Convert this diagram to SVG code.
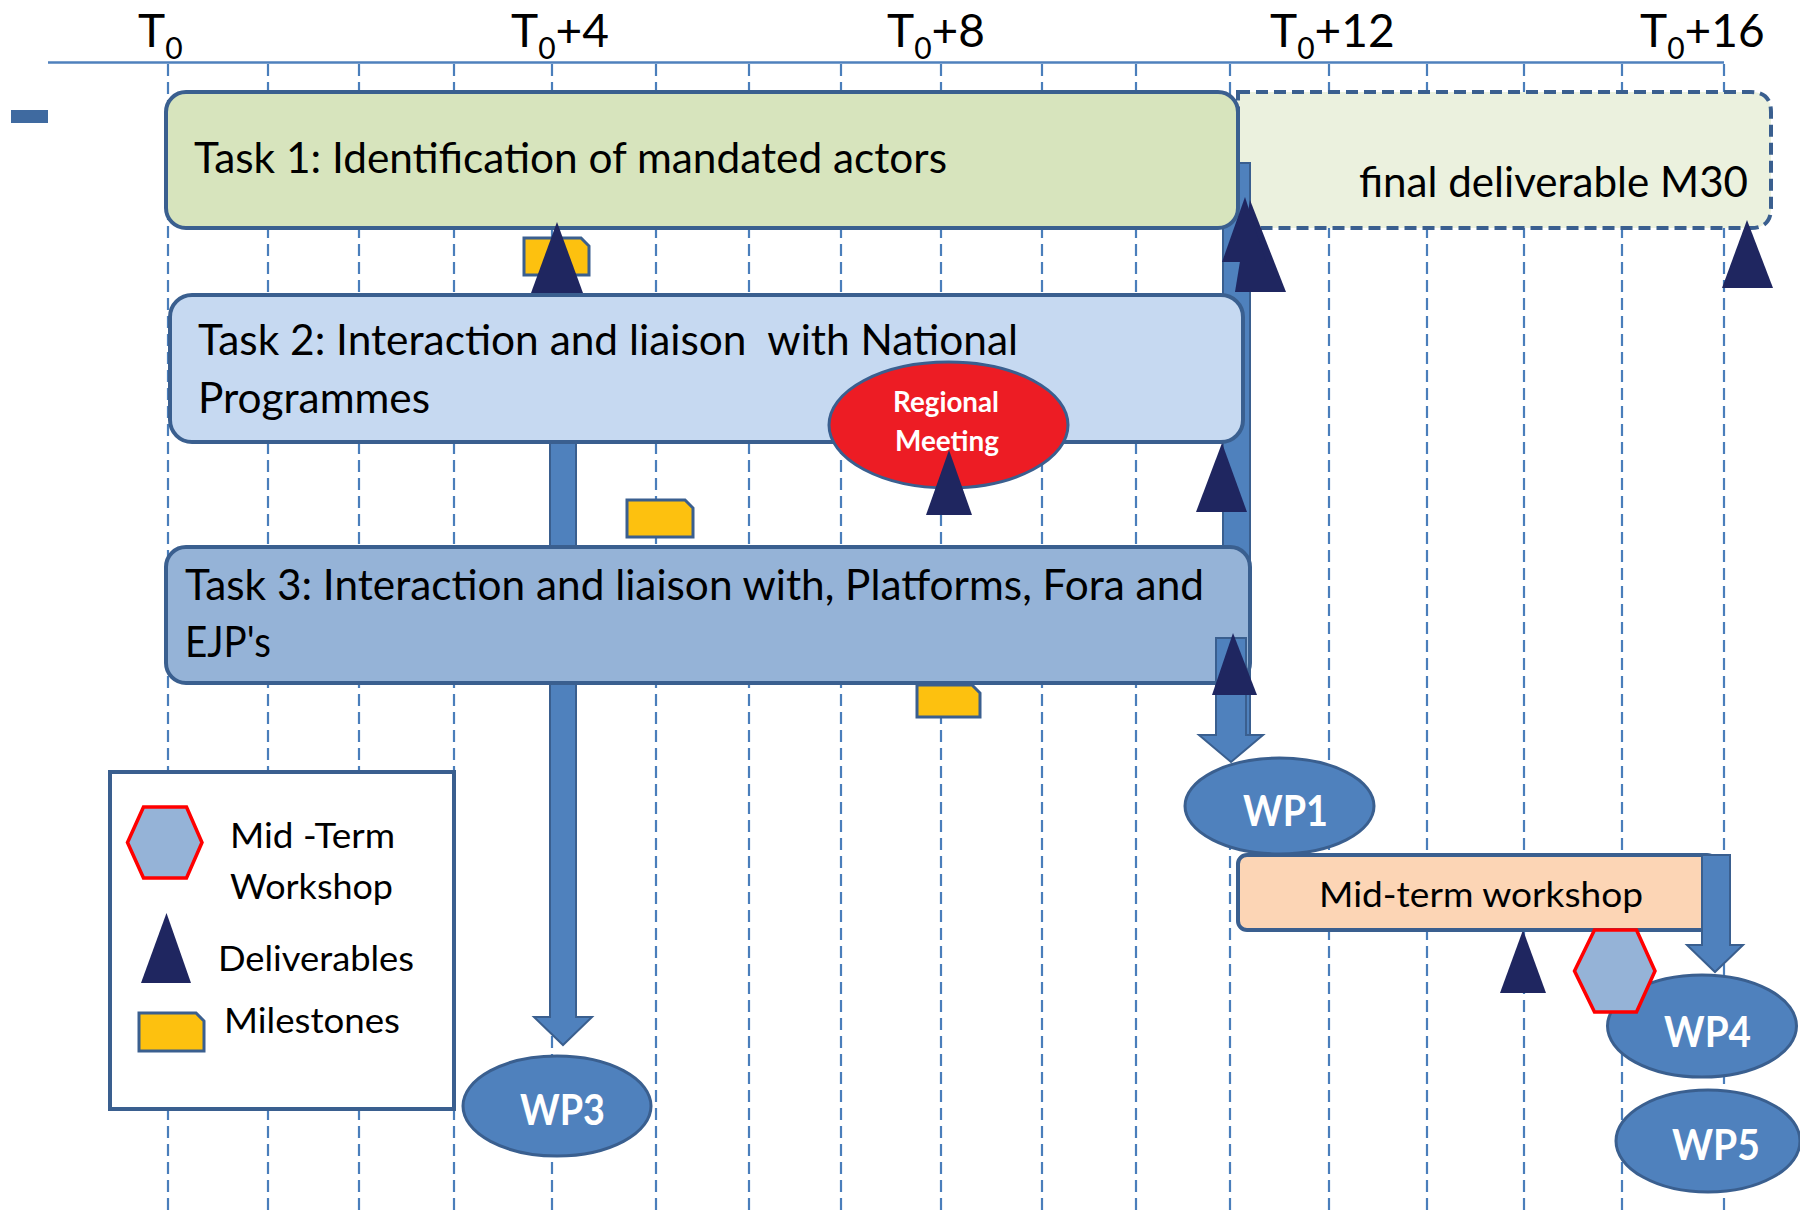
<svg xmlns="http://www.w3.org/2000/svg" width="1800" height="1211" viewBox="0 0 1800 1211">
<style>
text{font-family:Lato,"Open Sans","Liberation Sans",sans-serif;}
.ax{font-size:46px;fill:#000;}
.sub{font-size:30px;}
.grid{stroke:#4A7EBB;stroke-width:2.2;stroke-dasharray:12 6;fill:none;}
.box{stroke:#3A5F8F;stroke-width:4;}
.tk{font-size:43px;fill:#000;}
.lg{font-size:34px;fill:#000;}
.wp{fill:#4F81BD;stroke:#3A5F8F;stroke-width:3;}
.wpt{font-size:42px;font-weight:bold;fill:#fff;text-anchor:start;}
.del{fill:#1F2660;}
.ms{fill:#FDC10F;stroke:#3A5F8F;stroke-width:3;}
.hex{fill:#95B3D7;stroke:#FF0000;stroke-width:3.5;}
.bar{fill:#4F81BD;stroke:#3A5F8F;stroke-width:2;}
</style>

<g id="axis">
  <line x1="48" y1="62.5" x2="1724" y2="62.5" stroke="#4F81BD" stroke-width="2.5"/>
  <g class="grid">
    <line x1="168" y1="64" x2="168" y2="1211"/>
    <line x1="268" y1="64" x2="268" y2="1211"/>
    <line x1="359" y1="64" x2="359" y2="1211"/>
    <line x1="454" y1="64" x2="454" y2="1211"/>
    <line x1="552" y1="64" x2="552" y2="1211"/>
    <line x1="656" y1="64" x2="656" y2="1211"/>
    <line x1="749" y1="64" x2="749" y2="1211"/>
    <line x1="841" y1="64" x2="841" y2="1211"/>
    <line x1="941" y1="64" x2="941" y2="1211"/>
    <line x1="1042" y1="64" x2="1042" y2="1211"/>
    <line x1="1136" y1="64" x2="1136" y2="1211"/>
    <line x1="1230" y1="64" x2="1230" y2="1211"/>
    <line x1="1329" y1="64" x2="1329" y2="1211"/>
    <line x1="1427" y1="64" x2="1427" y2="1211"/>
    <line x1="1524" y1="64" x2="1524" y2="1211"/>
    <line x1="1622" y1="64" x2="1622" y2="1211"/>
    <line x1="1724" y1="64" x2="1724" y2="1211"/>
  </g>
  <text class="ax" x="138" y="47">T<tspan class="sub" dy="12">0</tspan></text>
  <text class="ax" x="511" y="47">T<tspan class="sub" dy="12">0</tspan><tspan dy="-12">+4</tspan></text>
  <text class="ax" x="887" y="47">T<tspan class="sub" dy="12">0</tspan><tspan dy="-12">+8</tspan></text>
  <text class="ax" x="1270" y="47">T<tspan class="sub" dy="12">0</tspan><tspan dy="-12">+12</tspan></text>
  <text class="ax" x="1640" y="47">T<tspan class="sub" dy="12">0</tspan><tspan dy="-12">+16</tspan></text>
</g>

<rect x="11" y="110" width="37" height="13" fill="#3F6AA0"/>

<g id="task1-extension">
  <path d="M1238 92 H1751 Q1771 92 1771 112 V208 Q1771 228 1751 228 H1238 Z" fill="#EBF1DE" stroke="#3A5F8F" stroke-width="4" stroke-dasharray="12 6"/>
  <text class="tk" x="1359" y="197" font-size="39" textLength="389" lengthAdjust="spacingAndGlyphs">final deliverable M30</text>
</g>

<g id="connectors">
  <rect class="bar" x="1223" y="163" width="27" height="572"/>
  <polygon class="bar" points="550,430 576,430 576,1017 592,1017 563,1045 534,1017 550,1017"/>
</g>

<g id="task1">
  <rect class="box" x="166" y="92" width="1072" height="136" rx="20" fill="#D7E4BD"/>
  <text class="tk" x="194" y="173" textLength="753" lengthAdjust="spacingAndGlyphs">Task 1: Identification of mandated actors</text>
</g>

<g id="task2">
  <rect class="box" x="170" y="295" width="1073" height="147" rx="22" fill="#C6D9F1"/>
  <text class="tk" x="198" y="355" xml:space="preserve" textLength="820" lengthAdjust="spacingAndGlyphs">Task 2: Interaction and liaison  with National</text>
  <text class="tk" x="198" y="413" textLength="232" lengthAdjust="spacingAndGlyphs">Programmes</text>
</g>

<g id="task3">
  <rect class="box" x="166" y="547" width="1084" height="136" rx="20" fill="#95B3D7"/>
  <text class="tk" x="185" y="600" textLength="1019" lengthAdjust="spacingAndGlyphs">Task 3: Interaction and liaison with, Platforms, Fora and</text>
  <text class="tk" x="185" y="657" textLength="86" lengthAdjust="spacingAndGlyphs">EJP's</text>
</g>

<g id="milestones">
  <path class="ms" d="M524 238 H581 L589 246 V275 H524 Z"/>
  <path class="ms" d="M627 500 H685 L693 508 V537 H627 Z"/>
  <path class="ms" d="M917 685 H972 L980 693 V717 H917 Z"/>
</g>

<g id="regional-meeting">
  <ellipse cx="948.5" cy="425" rx="119.5" ry="63" fill="#ED1C24" stroke="#3A5F8F" stroke-width="3"/>
  <text x="946" y="412" font-size="28" font-weight="bold" fill="#fff" text-anchor="middle" textLength="106" lengthAdjust="spacingAndGlyphs">Regional</text>
  <text x="947" y="451" font-size="28" font-weight="bold" fill="#fff" text-anchor="middle" textLength="104" lengthAdjust="spacingAndGlyphs">Meeting</text>
</g>

<g id="deliverables">
  <polygon class="del" points="557,222 531,293 583,293"/>
  <polygon class="del" points="1250,200 1235,292 1286,292"/>
  <polygon class="del" points="1245,197 1222,262 1266,262"/>
  <polygon class="del" points="1747,220 1722,288 1773,288"/>
  <polygon class="del" points="949,450 926,515 972,515"/>
  <polygon class="del" points="1222,443 1196,512 1247,512"/>
  <polygon class="del" points="1523,930 1500,993 1546,993"/>
</g>

<g id="wp1-arrow">
  <polygon class="bar" points="1216,638 1246,638 1246,735 1263,735 1231,762 1199,735 1216,735"/>
  <polygon class="del" points="1233,633 1212,695 1257,695"/>
</g>

<g id="wp3">
  <ellipse class="wp" cx="557" cy="1106" rx="94" ry="50"/>
  <text class="wpt" x="520" y="1125" textLength="85" lengthAdjust="spacingAndGlyphs">WP3</text>
</g>

<g id="wp1">
  <ellipse class="wp" cx="1279.5" cy="806" rx="94.5" ry="48"/>
  <text class="wpt" x="1243" y="826" textLength="85" lengthAdjust="spacingAndGlyphs">WP1</text>
</g>

<g id="midterm-workshop">
  <rect class="box" x="1238" y="855" width="478" height="75" rx="9" fill="#FCD5B5" stroke-width="3"/>
  <polygon class="bar" points="1702,855 1730,855 1730,945 1743,945 1715,972 1687,945 1702,945" stroke-width="3"/>
  <text x="1319" y="907" font-size="35" fill="#000" textLength="324" lengthAdjust="spacingAndGlyphs">Mid-term workshop</text>
</g>

<g id="wp4">
  <ellipse class="wp" cx="1702" cy="1026" rx="94.5" ry="51"/>
  <text class="wpt" x="1664" y="1047" textLength="87" lengthAdjust="spacingAndGlyphs">WP4</text>
</g>

<g id="midterm-hexagon">
  <polygon class="hex" points="1574.5,971 1594.5,930 1636.5,930 1655,971 1636.5,1012 1594.5,1012"/>
</g>

<g id="wp5">
  <ellipse class="wp" cx="1708" cy="1141" rx="92" ry="51"/>
  <text class="wpt" x="1672" y="1160" textLength="88" lengthAdjust="spacingAndGlyphs">WP5</text>
</g>

<g id="legend">
  <rect x="110" y="772" width="344" height="337" fill="#fff" stroke="#3A5F8F" stroke-width="4"/>
  <polygon class="hex" points="127.5,842.5 143.5,807 186.5,807 202,842.5 186.5,878 143.5,878"/>
  <text class="lg" x="230" y="848" xml:space="preserve" textLength="165" lengthAdjust="spacingAndGlyphs">Mid -Term</text>
  <text class="lg" x="230" y="899" textLength="163" lengthAdjust="spacingAndGlyphs">Workshop</text>
  <polygon class="del" points="166.5,913 141,983 191,983"/>
  <text class="lg" x="218" y="971" textLength="196" lengthAdjust="spacingAndGlyphs">Deliverables</text>
  <path class="ms" d="M139 1013 H196 L204 1021 V1051 H139 Z"/>
  <text class="lg" x="224" y="1033" textLength="176" lengthAdjust="spacingAndGlyphs">Milestones</text>
</g>
</svg>
